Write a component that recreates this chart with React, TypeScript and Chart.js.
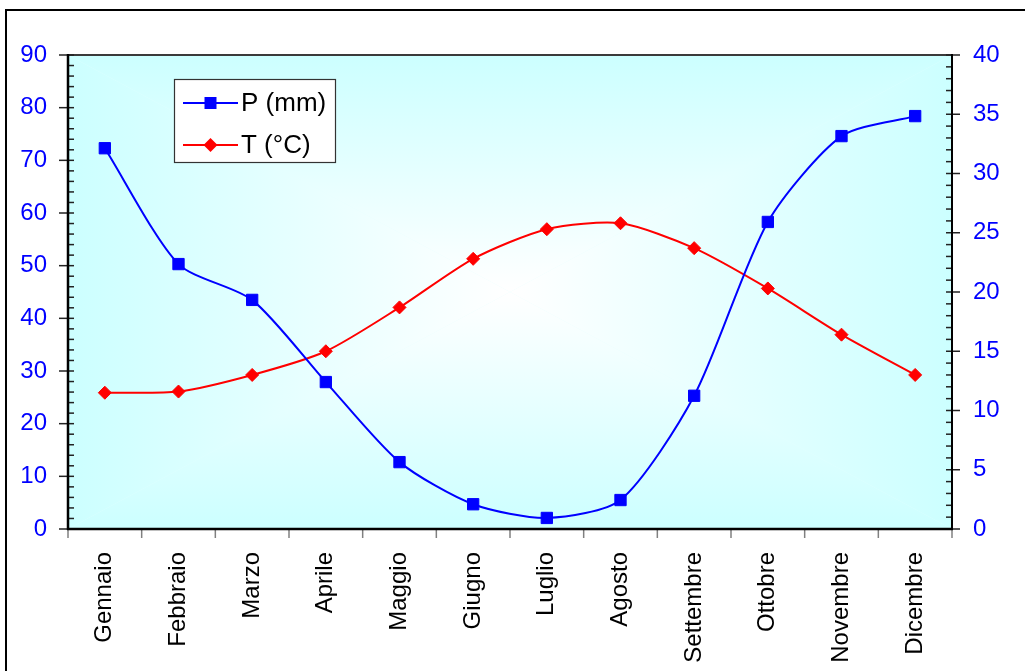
import React, { useEffect, useRef } from "react";
import { Chart, registerables } from "chart.js";

Chart.register(...registerables);

// Monthly climate data
const months = [
  "Gennaio",
  "Febbraio",
  "Marzo",
  "Aprile",
  "Maggio",
  "Giugno",
  "Luglio",
  "Agosto",
  "Settembre",
  "Ottobre",
  "Novembre",
  "Dicembre",
];
const precipitationMm = [72.3, 50.3, 43.5, 27.9, 12.7, 4.7, 2.1, 5.5, 25.3, 58.3, 74.6, 78.4];
const temperatureC = [11.5, 11.6, 13.0, 15.0, 18.7, 22.8, 25.3, 25.8, 23.7, 20.3, 16.4, 13.0];

// Axis ranges and tick spacing
const precipAxis = { min: 0, max: 90, major: 10, minor: 2 };
const tempAxis = { min: 0, max: 40, major: 5, minor: 1 };

const FONT = "'Liberation Sans', Arial, Helvetica, sans-serif";

// Rectangular "from centre" gradient fill of the plot area
const plotBackground = {
  id: "plotBackground",
  beforeDatasetsDraw(chart: any) {
    const { ctx, chartArea } = chart;
    const { left, top, right, bottom } = chartArea;
    const cx = (left + right) / 2;
    const cy = (top + bottom) / 2;
    ctx.save();
    ctx.fillStyle = "#E4FFFF";
    ctx.fillRect(left, top, right - left, bottom - top);
    const tri = (pts: number[][], ex: number, ey: number) => {
      const g = ctx.createLinearGradient(cx, cy, ex, ey);
      g.addColorStop(0, "#FFFFFF");
      g.addColorStop(1, "#CCFFFF");
      ctx.beginPath();
      ctx.moveTo(cx, cy);
      pts.forEach((p) => ctx.lineTo(p[0], p[1]));
      ctx.closePath();
      ctx.fillStyle = g;
      ctx.fill();
    };
    tri([[left, top], [right, top]], cx, top);
    tri([[right, top], [right, bottom]], right, cy);
    tri([[right, bottom], [left, bottom]], cx, bottom);
    tri([[left, bottom], [left, top]], left, cy);
    ctx.restore();
  },
};

// Axis lines, major/minor tick marks and category separators
const axisFrame = {
  id: "axisFrame",
  beforeDatasetsDraw(chart: any) {
    const { ctx, chartArea, scales } = chart;
    const { left, top, right, bottom } = chartArea;
    const line = (x0: number, y0: number, x1: number, y1: number, color: string, w: number) => {
      ctx.beginPath();
      ctx.moveTo(x0, y0);
      ctx.lineTo(x1, y1);
      ctx.strokeStyle = color;
      ctx.lineWidth = w;
      ctx.stroke();
    };
    ctx.save();
    ctx.lineCap = "butt";
    // top edge of the plot area
    line(left, top, right, top, "#3a3a3a", 2);

    const yL = scales.y;
    for (let v = precipAxis.min; v <= precipAxis.max; v += precipAxis.minor) {
      const y = yL.getPixelForValue(v);
      line(left, y, left + 6, y, "#222", 1.5);
    }
    for (let v = precipAxis.min; v <= precipAxis.max; v += precipAxis.major) {
      const y = yL.getPixelForValue(v);
      line(left - 9, y, left, y, "#222", 1.5);
    }
    const yR = scales.y1;
    for (let v = tempAxis.min; v <= tempAxis.max; v += tempAxis.minor) {
      const y = yR.getPixelForValue(v);
      line(right - 6, y, right, y, "#222", 1.5);
    }
    for (let v = tempAxis.min; v <= tempAxis.max; v += tempAxis.major) {
      const y = yR.getPixelForValue(v);
      line(right, y, right + 8, y, "#222", 1.5);
    }
    const xs = scales.x;
    for (let i = 0; i <= months.length; i++) {
      const x = xs.getPixelForValue(i - 0.5);
      line(x, bottom, x, bottom + 9, "#808080", 1.5);
    }
    line(left, top - 1, left, bottom + 1, "#000", 2.5);
    line(right, top - 1, right, bottom + 1, "#000", 2);
    line(left - 1, bottom, right + 1, bottom, "#000", 2.5);
    ctx.restore();
  },
};

// Legend box floating inside the plot, plus the outer chart border
const floatingLegend = {
  id: "floatingLegend",
  afterDraw(chart: any) {
    const { ctx, chartArea } = chart;
    const bx = chartArea.left + 106;
    const by = chartArea.top + 24;
    const bw = 162;
    const bh = 84;
    ctx.save();
    ctx.fillStyle = "#FFFFFF";
    ctx.fillRect(bx, by, bw, bh);
    ctx.strokeStyle = "#333";
    ctx.lineWidth = 1.2;
    ctx.strokeRect(bx + 0.5, by + 0.5, bw - 1, bh - 1);

    chart.data.datasets.forEach((ds: any, i: number) => {
      const ry = by + 24 + i * 42;
      const x0 = bx + 9;
      const x1 = bx + 64;
      const mx = (x0 + x1) / 2;
      ctx.beginPath();
      ctx.moveTo(x0, ry);
      ctx.lineTo(x1, ry);
      ctx.strokeStyle = ds.borderColor;
      ctx.lineWidth = 2;
      ctx.stroke();
      ctx.fillStyle = ds.pointBackgroundColor;
      ctx.beginPath();
      if (ds.pointStyle === "rect") {
        ctx.rect(mx - 6, ry - 6, 12, 12);
      } else {
        ctx.moveTo(mx, ry - 7);
        ctx.lineTo(mx + 7, ry);
        ctx.lineTo(mx, ry + 7);
        ctx.lineTo(mx - 7, ry);
        ctx.closePath();
      }
      ctx.fill();
      ctx.fillStyle = "#000";
      ctx.font = `26px ${FONT}`;
      ctx.textAlign = "left";
      ctx.textBaseline = "middle";
      ctx.fillText(ds.label, bx + 67, ry + 1);
    });

    // outer border of the chart object
    ctx.strokeStyle = "#000";
    ctx.lineWidth = 2;
    ctx.beginPath();
    ctx.moveTo(6, chart.height + 2);
    ctx.lineTo(6, 10);
    ctx.lineTo(chart.width + 2, 10);
    ctx.stroke();
    ctx.restore();
  },
};

export default function App() {
  const canvasRef = useRef<HTMLCanvasElement | null>(null);

  useEffect(() => {
    if (!canvasRef.current) return;
    const chart = new Chart(canvasRef.current, {
      type: "line",
      data: {
        labels: months,
        datasets: [
          {
            label: "P (mm)",
            data: precipitationMm,
            yAxisID: "y",
            borderColor: "#0000FF",
            backgroundColor: "#0000FF",
            pointBackgroundColor: "#0000FF",
            pointBorderColor: "#0000FF",
            pointStyle: "rect",
            pointRadius: 8,
            pointBorderWidth: 1,
            borderWidth: 2,
            tension: 0.25,
            fill: false,
          },
          {
            label: "T (°C)",
            data: temperatureC,
            yAxisID: "y1",
            borderColor: "#FF0000",
            backgroundColor: "#FF0000",
            pointBackgroundColor: "#FF0000",
            pointBorderColor: "#FF0000",
            pointStyle: "rectRot",
            pointRadius: 6.5,
            pointBorderWidth: 1,
            borderWidth: 2,
            tension: 0.25,
            fill: false,
          },
        ],
      },
      options: {
        animation: false,
        responsive: true,
        maintainAspectRatio: false,
        layout: { padding: { top: 55, left: 0, right: 0, bottom: 0 } },
        plugins: {
          legend: { display: false },
          tooltip: { enabled: false },
        },
        scales: {
          x: {
            type: "category",
            offset: true,
            grid: { display: false, drawTicks: false },
            border: { display: false },
            ticks: {
              color: "#000000",
              font: { size: 24, family: FONT },
              minRotation: 90,
              maxRotation: 90,
              autoSkip: false,
              padding: 23,
            },
            afterFit: (s: any) => {
              s.height = 142;
            },
          },
          y: {
            position: "left",
            min: precipAxis.min,
            max: precipAxis.max,
            grid: { display: false, drawTicks: false },
            border: { display: false },
            ticks: {
              stepSize: precipAxis.major,
              color: "#0000FF",
              font: { size: 24, family: FONT },
              padding: 21,
            },
            afterFit: (s: any) => {
              s.width = 68;
            },
          },
          y1: {
            position: "right",
            min: tempAxis.min,
            max: tempAxis.max,
            grid: { display: false, drawTicks: false },
            border: { display: false },
            ticks: {
              stepSize: tempAxis.major,
              color: "#0000FF",
              font: { size: 24, family: FONT },
              padding: 21,
            },
            afterFit: (s: any) => {
              s.width = 73;
            },
          },
        },
      },
      plugins: [plotBackground, axisFrame, floatingLegend],
    });
    return () => chart.destroy();
  }, []);

  return (
    <div
      style={{
        position: "fixed",
        left: 0,
        top: 0,
        width: 1025,
        height: 671,
        background: "#FFFFFF",
      }}
    >
      <canvas ref={canvasRef} />
    </div>
  );
}
